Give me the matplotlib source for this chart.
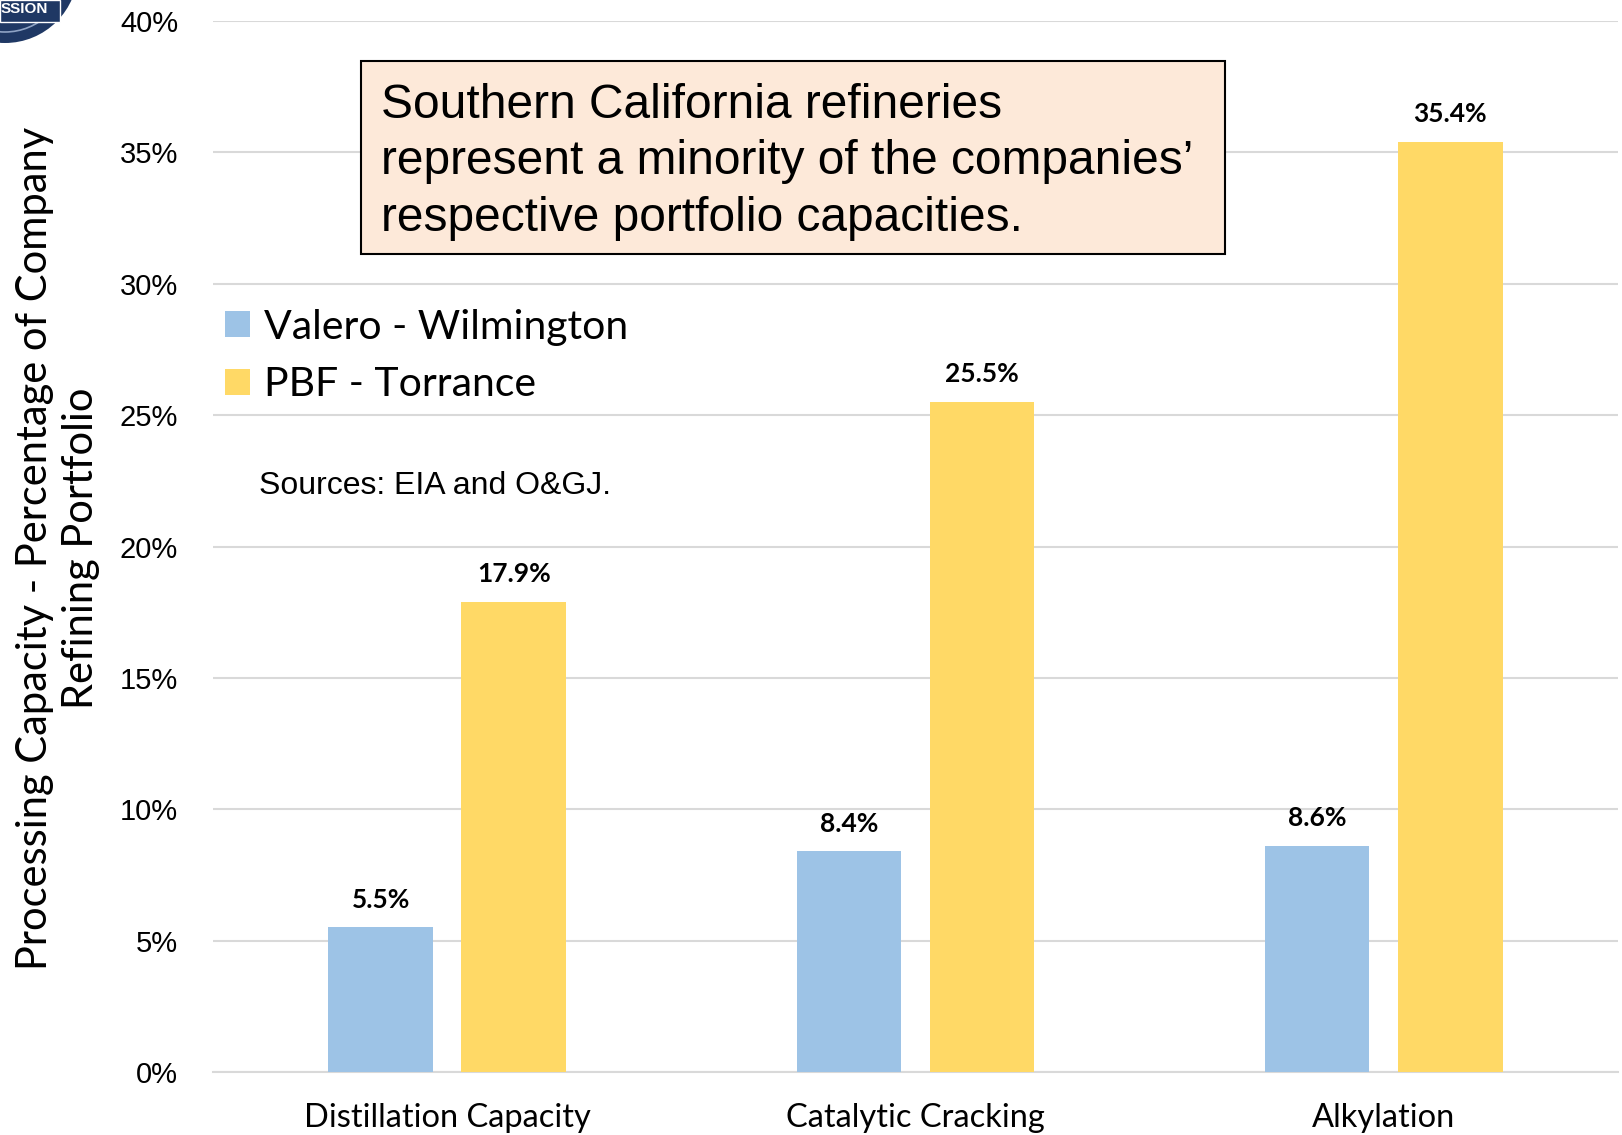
import matplotlib
matplotlib.use("Agg")
import matplotlib.pyplot as plt
from matplotlib.patches import Circle, Rectangle
import numpy as np

categories = ["Distillation Capacity", "Catalytic Cracking", "Alkylation"]
valero = [5.5, 8.4, 8.6]
pbf = [17.9, 25.5, 35.4]
series_names = ["Valero - Wilmington", "PBF - Torrance"]
yticks = [0, 5, 10, 15, 20, 25, 30, 35, 40]

BLUE = "#9DC3E6"
YELLOW = "#FFD966"
CAL = "Lato"
ARI = "Liberation Sans"

fig = plt.figure(figsize=(16.22, 11.35), dpi=100)
ax = fig.add_axes([0.1313, 0.0555, 0.8662, 0.926])

x = np.arange(len(categories))
w = 0.223
off = 0.142
b1 = ax.bar(x - off, valero, w, color=BLUE, label=series_names[0], zorder=3)
b2 = ax.bar(x + off, pbf, w, color=YELLOW, label=series_names[1], zorder=3)

for bars, vals in ((b1, valero), (b2, pbf)):
    for r, v in zip(bars, vals):
        ax.annotate(f"{v:.1f}%", (r.get_x() + r.get_width() / 2, v),
                    xytext=(0, 20), textcoords="offset points",
                    ha="center", va="center", fontsize=19, fontweight="bold",
                    family=CAL, color="black")

ax.set_xlim(-0.5, 2.5)
ax.set_ylim(0, 40)
ax.set_yticks(yticks)
ax.set_yticklabels([f"{t}%" for t in yticks], family=ARI, fontsize=21)
ax.set_xticks(x)
ax.set_xticklabels(categories, family=CAL, fontsize=23.5)
ax.tick_params(axis="both", length=0)
ax.tick_params(axis="y", pad=25)
ax.tick_params(axis="x", pad=22)
ax.grid(axis="y", color="#D9D9D9", linewidth=1.5, zorder=0)
for s in ["top", "right", "left"]:
    ax.spines[s].set_visible(False)
ax.spines["bottom"].set_color("#D9D9D9")
ax.spines["bottom"].set_linewidth(1.5)

leg = ax.legend(loc="upper left", bbox_to_anchor=(-0.003, 0.742), frameon=False,
                prop={"family": CAL, "size": 29.5}, handlelength=0.6,
                handleheight=0.6, handletextpad=0.35, labelspacing=0.5,
                borderaxespad=0.0)

fig.text(259 / 1622, 1 - 486 / 1135, "Sources: EIA and O&GJ.", family=ARI,
         fontsize=23, ha="left", va="center")

fig.text(58 / 1622, 1 - 548 / 1135,
         "Processing Capacity - Percentage of Company\nRefining Portfolio",
         rotation=90, ha="center", va="center", multialignment="center",
         family=CAL, fontsize=30, linespacing=1.25)

# annotation box
bx0, bx1 = 361 / 1622, 1225 / 1622
by0, by1 = 1 - 254 / 1135, 1 - 61 / 1135
fig.patches.append(Rectangle((bx0, by0), bx1 - bx0, by1 - by0,
                             transform=fig.transFigure, facecolor="#FDE9D9",
                             edgecolor="black", linewidth=1.5, zorder=5))
fig.text(381 / 1622, 1 - 162 / 1135,
         "Southern California refineries\nrepresent a minority of the companies\u2019\nrespective portfolio capacities.",
         family=ARI, fontsize=34.5, ha="left", va="center", linespacing=1.32,
         zorder=6)

# partial logo at the top-left corner (pixel-based, in inches)
H = 11.35
tr = fig.dpi_scale_trans
fig.patches.append(Circle((0.05, H + 0.30), 0.73, transform=tr,
                          facecolor="#1F3864", edgecolor="none", zorder=5))
fig.patches.append(Circle((0.05, H + 0.30), 0.62, transform=tr,
                          facecolor="none", edgecolor="#8FA3C4", linewidth=1.2, zorder=5))
fig.patches.append(Rectangle((0, H - 0.22), 0.60, 0.22, transform=tr,
                             facecolor="#1F3864", edgecolor="white", linewidth=1, zorder=6))
fig.text(0.005, H - 0.09, "SSION", transform=tr, color="white", fontsize=11,
         fontweight="bold", family=ARI, ha="left", va="center", zorder=7)

fig.savefig("out.png", dpi=100)
